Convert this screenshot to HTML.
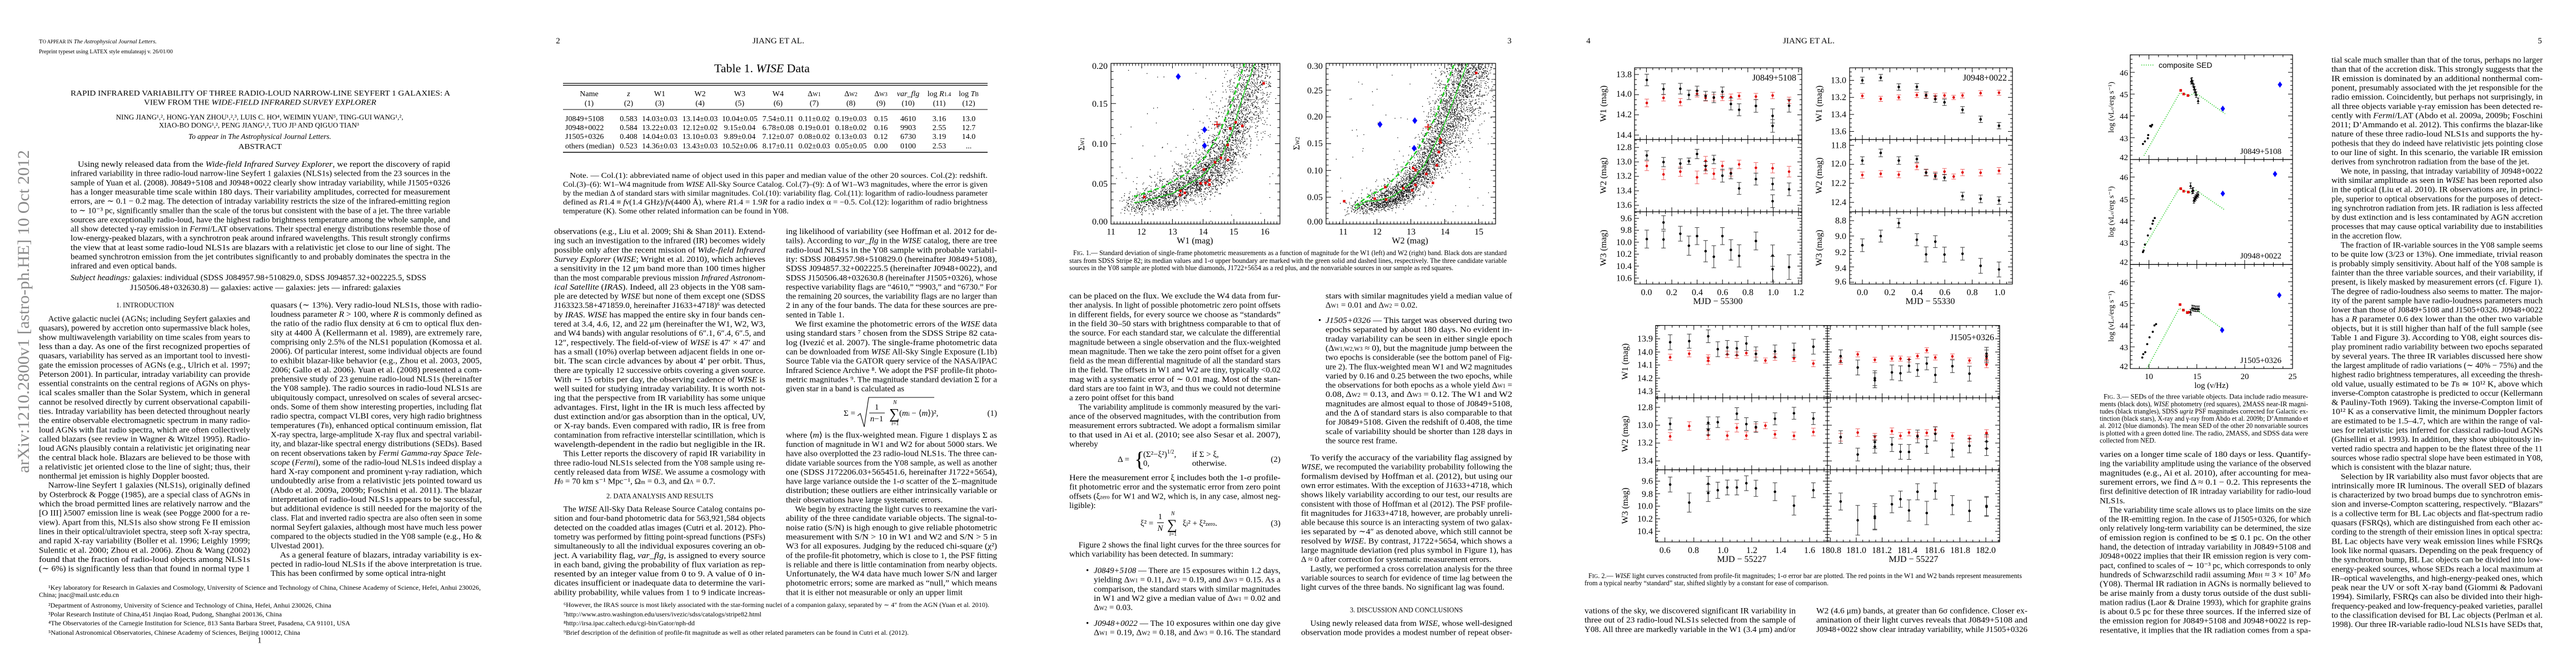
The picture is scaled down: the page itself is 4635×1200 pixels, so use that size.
<!DOCTYPE html>
<html><head><meta charset="utf-8"><title>Jiang et al. 2012</title>
<style>
html,body{margin:0;padding:0;background:#fff;}
svg{display:block;}
text{font-family:"Liberation Serif","DejaVu Serif",serif;fill:#000;}
.b{font-size:15px;}
.f{font-size:11.5px;}
.c{font-size:12.5px;}
.s{font-family:"Liberation Sans","DejaVu Sans",sans-serif;}
.i{font-style:italic;}
.u{font-size:10px;}
</style></head>
<body>
<svg id="s" xmlns="http://www.w3.org/2000/svg" width="4635" height="1200" viewBox="0 0 4635 1200">
<rect x="0" y="0" width="4635" height="1200" fill="#fff"/>

<!-- ================= PAGE 1 ================= -->
<text transform="translate(52,851) rotate(-90)" font-size="30" style="fill:#8a8a8a" textLength="581" lengthAdjust="spacingAndGlyphs">arXiv:1210.2800v1  [astro-ph.HE]  10 Oct 2012</text>
<text x="70" y="78" font-size="11" textLength="212" lengthAdjust="spacingAndGlyphs">T<tspan font-size="9">O APPEAR IN</tspan> <tspan class="i">The Astrophysical Journal Letters.</tspan></text>
<text x="70" y="96" font-size="11" textLength="241" lengthAdjust="spacingAndGlyphs">Preprint typeset using LATEX style emulateapj v. 26/01/00</text>
<text x="127" y="172" font-size="14" textLength="683" lengthAdjust="spacingAndGlyphs">RAPID INFRARED VARIABILITY OF THREE RADIO-LOUD NARROW-LINE SEYFERT 1 GALAXIES: A</text>
<text x="259" y="188.5" font-size="14" textLength="418" lengthAdjust="spacingAndGlyphs">VIEW FROM THE <tspan class="i">WIDE-FIELD INFRARED SURVEY EXPLORER</tspan></text>
<text x="208.6" y="215" font-size="12.5" textLength="517" lengthAdjust="spacingAndGlyphs">NING JIANG¹,², HONG-YAN ZHOU¹,²,³, LUIS C. HO⁴, WEIMIN YUAN⁵, TING-GUI WANG¹,²,</text>
<text x="286" y="229.5" font-size="12.5" textLength="360" lengthAdjust="spacingAndGlyphs">XIAO-BO DONG¹,², PENG JIANG¹,², TUO JI³ AND QIGUO TIAN³</text>
<text x="339" y="250" font-size="13.5" class="i" textLength="257" lengthAdjust="spacingAndGlyphs">To appear in The Astrophysical Journal Letters.</text>
<text x="429" y="268" font-size="13.5" textLength="78" lengthAdjust="spacingAndGlyphs">ABSTRACT</text>
<g class="b" transform="translate(127,300)">
<text x="13" y="0" textLength="670" lengthAdjust="spacingAndGlyphs">Using newly released data from the <tspan class="i">Wide-field Infrared Survey Explorer</tspan>, we report the discovery of rapid</text>
<text y="16.65" textLength="683" lengthAdjust="spacingAndGlyphs">infrared variability in three radio-loud narrow-line Seyfert 1 galaxies (NLS1s) selected from the 23 sources in the</text>
<text y="33.3" textLength="683" lengthAdjust="spacingAndGlyphs">sample of Yuan et al. (2008). J0849+5108 and J0948+0022 clearly show intraday variability, while J1505+0326</text>
<text y="49.95" textLength="683" lengthAdjust="spacingAndGlyphs">has a longer measurable time scale within 180 days. Their variability amplitudes, corrected for measurement</text>
<text y="66.6" textLength="683" lengthAdjust="spacingAndGlyphs">errors, are ∼ 0.1 − 0.2 mag. The detection of intraday variability restricts the size of the infrared-emitting region</text>
<text y="83.25" textLength="683" lengthAdjust="spacingAndGlyphs">to ∼ 10⁻³ pc, significantly smaller than the scale of the torus but consistent with the base of a jet. The three variable</text>
<text y="99.9" textLength="683" lengthAdjust="spacingAndGlyphs">sources are exceptionally radio-loud, have the highest radio brightness temperature among the whole sample, and</text>
<text y="116.55" textLength="683" lengthAdjust="spacingAndGlyphs">all show detected γ-ray emission in <tspan class="i">Fermi</tspan>/LAT observations. Their spectral energy distributions resemble those of</text>
<text y="133.2" textLength="683" lengthAdjust="spacingAndGlyphs">low-energy-peaked blazars, with a synchrotron peak around infrared wavelengths. This result strongly confirms</text>
<text y="149.85" textLength="683" lengthAdjust="spacingAndGlyphs">the view that at least some radio-loud NLS1s are blazars with a relativistic jet close to our line of sight. The</text>
<text y="166.5" textLength="683" lengthAdjust="spacingAndGlyphs">beamed synchrotron emission from the jet contributes significantly to and probably dominates the spectra in the</text>
<text y="183.15" textLength="191" lengthAdjust="spacingAndGlyphs">infrared and even optical bands.</text>
</g>
<text x="127" y="504" class="b" textLength="640" lengthAdjust="spacingAndGlyphs"><tspan class="i">Subject headings:</tspan> galaxies: individual (SDSS J084957.98+510829.0, SDSS J094857.32+002225.5, SDSS</text>
<text x="234" y="522" class="b" textLength="487" lengthAdjust="spacingAndGlyphs">J150506.48+032630.8) — galaxies: active — galaxies: jets — infrared: galaxies</text>
<text x="209" y="553" font-size="12.5" textLength="104" lengthAdjust="spacingAndGlyphs">1. INTRODUCTION</text>
<g class="b" transform="translate(70,578)">
<text x="16.6" y="0" textLength="363.4" lengthAdjust="spacingAndGlyphs">Active galactic nuclei (AGNs; including Seyfert galaxies and</text>
<text y="16.65" textLength="380" lengthAdjust="spacingAndGlyphs">quasars), powered by accretion onto supermassive black holes,</text>
<text y="33.3" textLength="380" lengthAdjust="spacingAndGlyphs">show multiwavelength variability on time scales from years to</text>
<text y="49.95" textLength="380" lengthAdjust="spacingAndGlyphs">less than a day. As one of the first recognized properties of</text>
<text y="66.6" textLength="380" lengthAdjust="spacingAndGlyphs">quasars, variability has served as an important tool to investi-</text>
<text y="83.25" textLength="380" lengthAdjust="spacingAndGlyphs">gate the emission processes of AGNs (e.g., Ulrich et al. 1997;</text>
<text y="99.9" textLength="380" lengthAdjust="spacingAndGlyphs">Peterson 2001). In particular, intraday variability can provide</text>
<text y="116.55" textLength="380" lengthAdjust="spacingAndGlyphs">essential constraints on the central regions of AGNs on phys-</text>
<text y="133.2" textLength="380" lengthAdjust="spacingAndGlyphs">ical scales smaller than the Solar System, which in general</text>
<text y="149.85" textLength="380" lengthAdjust="spacingAndGlyphs">cannot be resolved directly by current observational capabili-</text>
<text y="166.5" textLength="380" lengthAdjust="spacingAndGlyphs">ties. Intraday variability has been detected throughout nearly</text>
<text y="183.15" textLength="380" lengthAdjust="spacingAndGlyphs">the entire observable electromagnetic spectrum in many radio-</text>
<text y="199.8" textLength="380" lengthAdjust="spacingAndGlyphs">loud AGNs with flat radio spectra, which are often collectively</text>
<text y="216.45" textLength="380" lengthAdjust="spacingAndGlyphs">called blazars (see review in Wagner &amp; Witzel 1995). Radio-</text>
<text y="233.1" textLength="380" lengthAdjust="spacingAndGlyphs">loud AGNs plausibly contain a relativistic jet originating near</text>
<text y="249.75" textLength="380" lengthAdjust="spacingAndGlyphs">the central black hole. Blazars are believed to be those with</text>
<text y="266.4" textLength="380" lengthAdjust="spacingAndGlyphs">a relativistic jet oriented close to the line of sight; thus, their</text>
<text y="283.05">nonthermal jet emission is highly Doppler boosted.</text>
<text x="16.6" y="299.7" textLength="363.4" lengthAdjust="spacingAndGlyphs">Narrow-line Seyfert 1 galaxies (NLS1s), originally defined</text>
<text y="316.35" textLength="380" lengthAdjust="spacingAndGlyphs">by Osterbrock &amp; Pogge (1985), are a special class of AGNs in</text>
<text y="333" textLength="380" lengthAdjust="spacingAndGlyphs">which the broad permitted lines are relatively narrow and the</text>
<text y="349.65" textLength="380" lengthAdjust="spacingAndGlyphs">[O III] λ5007 emission line is weak (see Pogge 2000 for a re-</text>
<text y="366.3" textLength="380" lengthAdjust="spacingAndGlyphs">view). Apart from this, NLS1s also show strong Fe II emission</text>
<text y="382.95" textLength="380" lengthAdjust="spacingAndGlyphs">lines in their optical/ultraviolet spectra, steep soft X-ray spectra,</text>
<text y="399.6" textLength="380" lengthAdjust="spacingAndGlyphs">and rapid X-ray variability (Boller et al. 1996; Leighly 1999;</text>
<text y="416.25" textLength="380" lengthAdjust="spacingAndGlyphs">Sulentic et al. 2000; Zhou et al. 2006). Zhou &amp; Wang (2002)</text>
<text y="432.9" textLength="380" lengthAdjust="spacingAndGlyphs">found that the fraction of radio-loud objects among NLS1s</text>
<text y="449.55" textLength="380" lengthAdjust="spacingAndGlyphs">(∼ 6%) is significantly less than that found in normal type 1</text>
</g>
<g class="b" transform="translate(487,553.4)">
<text y="0" textLength="380" lengthAdjust="spacingAndGlyphs">quasars (∼ 13%). Very radio-loud NLS1s, those with radio-</text>
<text y="16.65" textLength="380" lengthAdjust="spacingAndGlyphs">loudness parameter <tspan class="i">R</tspan> &gt; 100, where <tspan class="i">R</tspan> is commonly defined as</text>
<text y="33.3" textLength="380" lengthAdjust="spacingAndGlyphs">the ratio of the radio flux density at 6 cm to optical flux den-</text>
<text y="49.95" textLength="380" lengthAdjust="spacingAndGlyphs">sity at 4400 Å (Kellermann et al. 1989), are extremely rare,</text>
<text y="66.6" textLength="380" lengthAdjust="spacingAndGlyphs">comprising only 2.5% of the NLS1 population (Komossa et al.</text>
<text y="83.25" textLength="380" lengthAdjust="spacingAndGlyphs">2006). Of particular interest, some individual objects are found</text>
<text y="99.9" textLength="380" lengthAdjust="spacingAndGlyphs">to exhibit blazar-like behavior (e.g., Zhou et al. 2003, 2005,</text>
<text y="116.55" textLength="380" lengthAdjust="spacingAndGlyphs">2006; Gallo et al. 2006). Yuan et al. (2008) presented a com-</text>
<text y="133.2" textLength="380" lengthAdjust="spacingAndGlyphs">prehensive study of 23 genuine radio-loud NLS1s (hereinafter</text>
<text y="149.85" textLength="380" lengthAdjust="spacingAndGlyphs">the Y08 sample). The radio sources in radio-loud NLS1s are</text>
<text y="166.5" textLength="380" lengthAdjust="spacingAndGlyphs">ubiquitously compact, unresolved on scales of several arcsec-</text>
<text y="183.15" textLength="380" lengthAdjust="spacingAndGlyphs">onds. Some of them show interesting properties, including flat</text>
<text y="199.8" textLength="380" lengthAdjust="spacingAndGlyphs">radio spectra, compact VLBI cores, very high radio brightness</text>
<text y="216.45" textLength="380" lengthAdjust="spacingAndGlyphs">temperatures (<tspan class="i">T</tspan><tspan class="u">B</tspan>), enhanced optical continuum emission, flat</text>
<text y="233.1" textLength="380" lengthAdjust="spacingAndGlyphs">X-ray spectra, large-amplitude X-ray flux and spectral variabil-</text>
<text y="249.75" textLength="380" lengthAdjust="spacingAndGlyphs">ity, and blazar-like spectral energy distributions (SEDs). Based</text>
<text y="266.4" textLength="380" lengthAdjust="spacingAndGlyphs">on recent observations taken by <tspan class="i">Fermi Gamma-ray Space Tele-</tspan></text>
<text y="283.05" textLength="380" lengthAdjust="spacingAndGlyphs"><tspan class="i">scope</tspan> (<tspan class="i">Fermi</tspan>), some of the radio-loud NLS1s indeed display a</text>
<text y="299.7" textLength="380" lengthAdjust="spacingAndGlyphs">hard X-ray component and prominent γ-ray radiation, which</text>
<text y="316.35" textLength="380" lengthAdjust="spacingAndGlyphs">undoubtedly arise from a relativistic jets pointed toward us</text>
<text y="333" textLength="380" lengthAdjust="spacingAndGlyphs">(Abdo et al. 2009a, 2009b; Foschini et al. 2011). The blazar</text>
<text y="349.65" textLength="380" lengthAdjust="spacingAndGlyphs">interpretation of radio-loud NLS1s appears to be successful,</text>
<text y="366.3" textLength="380" lengthAdjust="spacingAndGlyphs">but additional evidence is still needed for the majority of the</text>
<text y="382.95" textLength="380" lengthAdjust="spacingAndGlyphs">class. Flat and inverted radio spectra are also often seen in some</text>
<text y="399.6" textLength="380" lengthAdjust="spacingAndGlyphs">normal Seyfert galaxies, although most have much less power</text>
<text y="416.25" textLength="380" lengthAdjust="spacingAndGlyphs">compared to the objects studied in the Y08 sample (e.g., Ho &amp;</text>
<text y="432.9">Ulvestad 2001).</text>
<text x="16.6" y="449.55" textLength="363.4" lengthAdjust="spacingAndGlyphs">As a general feature of blazars, intraday variability is ex-</text>
<text y="466.2" textLength="380" lengthAdjust="spacingAndGlyphs">pected in radio-loud NLS1s if the above interpretation is true.</text>
<text y="482.85" textLength="315" lengthAdjust="spacingAndGlyphs">This has been confirmed by some optical intra-night</text>
</g>
<g class="f">
<text x="87" y="1061" textLength="778" lengthAdjust="spacingAndGlyphs">¹Key laboratory for Research in Galaxies and Cosmology, University of Science and Technology of China, Chinese Academy of Science, Hefei, Anhui 230026,</text>
<text x="70" y="1074" textLength="144" lengthAdjust="spacingAndGlyphs">China; jnac@mail.ustc.edu.cn</text>
<text x="87" y="1093" textLength="509" lengthAdjust="spacingAndGlyphs">²Department of Astronomy, University of Science and Technology of China, Hefei, Anhui 230026, China</text>
<text x="87" y="1109" textLength="420" lengthAdjust="spacingAndGlyphs">³Polar Research Institute of China,451 Jinqiao Road, Pudong, Shanghai 200136, China</text>
<text x="87" y="1125" textLength="543" lengthAdjust="spacingAndGlyphs">⁴The Observatories of the Carnegie Institution for Science, 813 Santa Barbara Street, Pasadena, CA 91101, USA</text>
<text x="87" y="1142" textLength="453" lengthAdjust="spacingAndGlyphs">⁵National Astronomical Observatories, Chinese Academy of Sciences, Beijing 100012, China</text>
</g>
<text x="467" y="1156.5" class="b" text-anchor="middle">1</text>

<!-- ================= PAGE 2 ================= -->
<text x="1004" y="78" class="b" text-anchor="middle">2</text>
<text x="1354" y="78" class="b" textLength="93" lengthAdjust="spacingAndGlyphs">JIANG ET AL.</text>
<text x="1285" y="130" font-size="21" textLength="172" lengthAdjust="spacingAndGlyphs">Table 1.   <tspan class="i">WISE</tspan> Data</text>
<g stroke="#000" fill="none">
<line x1="1013" y1="150" x2="1777" y2="150" stroke-width="1.2"/>
<line x1="1013" y1="153.5" x2="1777" y2="153.5" stroke-width="1.2"/>
<line x1="1013" y1="197" x2="1777" y2="197" stroke-width="1"/>
<line x1="1013" y1="274" x2="1777" y2="274" stroke-width="1.6"/>
</g>
<g font-size="14" text-anchor="middle">
<text x="1060" y="173">Name</text><text x="1131" y="173" class="i">z</text><text x="1187" y="173">W1</text><text x="1259.6" y="173">W2</text><text x="1331" y="173">W3</text><text x="1400" y="173">W4</text><text x="1465" y="173">Δ<tspan class="u">W1</tspan></text><text x="1531" y="173">Δ<tspan class="u">W2</tspan></text><text x="1585" y="173">Δ<tspan class="u">W3</tspan></text><text x="1634" y="173" class="i">var_flg</text><text x="1690" y="173">log <tspan class="i">R</tspan><tspan class="u">1.4</tspan></text><text x="1743" y="173">log <tspan class="i">T</tspan><tspan class="u">B</tspan></text>
<text x="1060" y="190">(1)</text><text x="1131" y="190">(2)</text><text x="1187" y="190">(3)</text><text x="1259.6" y="190">(4)</text><text x="1331" y="190">(5)</text><text x="1400" y="190">(6)</text><text x="1465" y="190">(7)</text><text x="1531" y="190">(8)</text><text x="1585" y="190">(9)</text><text x="1634" y="190">(10)</text><text x="1690" y="190">(11)</text><text x="1743" y="190">(12)</text>
<text x="1131" y="218">0.583</text><text x="1187" y="218">14.03±0.03</text><text x="1259.6" y="218">13.14±0.03</text><text x="1331" y="218">10.04±0.05</text><text x="1400" y="218">7.54±0.11</text><text x="1465" y="218">0.11±0.02</text><text x="1531" y="218">0.19±0.03</text><text x="1585" y="218">0.15</text><text x="1634" y="218">4610</text><text x="1690" y="218">3.16</text><text x="1743" y="218">13.0</text>
<text x="1131" y="234">0.584</text><text x="1187" y="234">13.22±0.03</text><text x="1259.6" y="234">12.12±0.02</text><text x="1331" y="234">9.15±0.04</text><text x="1400" y="234">6.78±0.08</text><text x="1465" y="234">0.19±0.01</text><text x="1531" y="234">0.18±0.02</text><text x="1585" y="234">0.16</text><text x="1634" y="234">9903</text><text x="1690" y="234">2.55</text><text x="1743" y="234">12.7</text>
<text x="1131" y="250">0.408</text><text x="1187" y="250">14.04±0.03</text><text x="1259.6" y="250">13.10±0.03</text><text x="1331" y="250">9.89±0.04</text><text x="1400" y="250">7.12±0.07</text><text x="1465" y="250">0.08±0.02</text><text x="1531" y="250">0.13±0.03</text><text x="1585" y="250">0.12</text><text x="1634" y="250">6730</text><text x="1690" y="250">3.19</text><text x="1743" y="250">14.0</text>
<text x="1131" y="267">0.523</text><text x="1187" y="267">14.36±0.03</text><text x="1259.6" y="267">13.43±0.03</text><text x="1331" y="267">10.52±0.06</text><text x="1400" y="267">8.17±0.11</text><text x="1465" y="267">0.02±0.03</text><text x="1531" y="267">0.05±0.05</text><text x="1585" y="267">0.00</text><text x="1634" y="267">0100</text><text x="1690" y="267">2.53</text><text x="1743" y="267">...</text>
</g>
<g font-size="14">
<text x="1017" y="218">J0849+5108</text><text x="1017" y="234">J0948+0022</text><text x="1017" y="250">J1505+0326</text><text x="1017" y="267">others (median)</text>
</g>
<g font-size="13.5">
<text x="1025" y="320" textLength="752" lengthAdjust="spacingAndGlyphs">Note. — Col.(1): abbreviated name of object used in this paper and median value of the other 20 sources. Col.(2): redshift.</text>
<text x="1013" y="336" textLength="764" lengthAdjust="spacingAndGlyphs">Col.(3)–(6): W1–W4 magnitude from <tspan class="i">WISE</tspan> All-Sky Source Catalog. Col.(7)–(9): Δ of W1–W3 magnitudes, where the error is given</text>
<text x="1013" y="352" textLength="764" lengthAdjust="spacingAndGlyphs">by the median Δ of standard stars with similar magnitudes. Col.(10): variability flag. Col.(11): logarithm of radio-loudness parameter</text>
<text x="1013" y="368" textLength="764" lengthAdjust="spacingAndGlyphs">defined as <tspan class="i">R</tspan>1.4 ≡ <tspan class="i">f</tspan>ν(1.4 GHz)/<tspan class="i">f</tspan>ν(4400 Å), where <tspan class="i">R</tspan>1.4 = 1.9<tspan class="i">R</tspan> for a radio index α = −0.5. Col.(12): logarithm of radio brightness</text>
<text x="1013" y="384" textLength="406" lengthAdjust="spacingAndGlyphs">temperature (K). Some other related information can be found in Y08.</text>
</g>
<g class="b" transform="translate(997,421)">
<text y="0" textLength="380" lengthAdjust="spacingAndGlyphs">observations (e.g., Liu et al. 2009; Shi &amp; Shan 2011). Extend-</text>
<text y="16.65" textLength="380" lengthAdjust="spacingAndGlyphs">ing such an investigation to the infrared (IR) becomes widely</text>
<text y="33.3" textLength="380" lengthAdjust="spacingAndGlyphs">possible only after the recent mission of <tspan class="i">Wide-field Infrared</tspan></text>
<text y="49.95" textLength="380" lengthAdjust="spacingAndGlyphs"><tspan class="i">Survey Explorer</tspan> (<tspan class="i">WISE</tspan>; Wright et al. 2010), which achieves</text>
<text y="66.6" textLength="380" lengthAdjust="spacingAndGlyphs">a sensitivity in the 12 μm band more than 100 times higher</text>
<text y="83.25" textLength="380" lengthAdjust="spacingAndGlyphs">than the most comparable previous mission <tspan class="i">Infrared Astronom-</tspan></text>
<text y="99.9" textLength="380" lengthAdjust="spacingAndGlyphs"><tspan class="i">ical Satellite</tspan> (<tspan class="i">IRAS</tspan>). Indeed, all 23 objects in the Y08 sam-</text>
<text y="116.55" textLength="380" lengthAdjust="spacingAndGlyphs">ple are detected by <tspan class="i">WISE</tspan> but none of them except one (SDSS</text>
<text y="133.2" textLength="380" lengthAdjust="spacingAndGlyphs">J163323.58+471859.0, hereinafter J1633+4718)⁶ was detected</text>
<text y="149.85" textLength="380" lengthAdjust="spacingAndGlyphs">by <tspan class="i">IRAS</tspan>. <tspan class="i">WISE</tspan> has mapped the entire sky in four bands cen-</text>
<text y="166.5" textLength="380" lengthAdjust="spacingAndGlyphs">tered at 3.4, 4.6, 12, and 22 μm (hereinafter the W1, W2, W3,</text>
<text y="183.15" textLength="380" lengthAdjust="spacingAndGlyphs">and W4 bands) with angular resolutions of 6″.1, 6″.4, 6″.5, and</text>
<text y="199.8" textLength="380" lengthAdjust="spacingAndGlyphs">12″, respectively. The field-of-view of <tspan class="i">WISE</tspan> is 47′ × 47′ and</text>
<text y="216.45" textLength="380" lengthAdjust="spacingAndGlyphs">has a small (10%) overlap between adjacent fields in one or-</text>
<text y="233.1" textLength="380" lengthAdjust="spacingAndGlyphs">bit. The scan circle advances by about 4′ per orbit. Thus,</text>
<text y="249.75" textLength="380" lengthAdjust="spacingAndGlyphs">there are typically 12 successive orbits covering a given source.</text>
<text y="266.4" textLength="380" lengthAdjust="spacingAndGlyphs">With ∼ 15 orbits per day, the observing cadence of <tspan class="i">WISE</tspan> is</text>
<text y="283.05" textLength="380" lengthAdjust="spacingAndGlyphs">well suited for studying intraday variability. It is worth not-</text>
<text y="299.7" textLength="380" lengthAdjust="spacingAndGlyphs">ing that the perspective from IR variability has some unique</text>
<text y="316.35" textLength="380" lengthAdjust="spacingAndGlyphs">advantages. First, light in the IR is much less affected by</text>
<text y="333" textLength="380" lengthAdjust="spacingAndGlyphs">dust extinction and/or gas absorption than in the optical, UV,</text>
<text y="349.65" textLength="380" lengthAdjust="spacingAndGlyphs">or X-ray bands. Even compared with radio, IR is free from</text>
<text y="366.3" textLength="380" lengthAdjust="spacingAndGlyphs">contamination from refractive interstellar scintillation, which is</text>
<text y="382.95" textLength="380" lengthAdjust="spacingAndGlyphs">wavelength-dependent in the radio but negligible in the IR.</text>
<text x="16.6" y="399.6" textLength="363.4" lengthAdjust="spacingAndGlyphs">This Letter reports the discovery of rapid IR variability in</text>
<text y="416.25" textLength="380" lengthAdjust="spacingAndGlyphs">three radio-loud NLS1s selected from the Y08 sample using re-</text>
<text y="432.9" textLength="380" lengthAdjust="spacingAndGlyphs">cently released data from <tspan class="i">WISE</tspan>. We assume a cosmology with</text>
<text y="449.55" textLength="290" lengthAdjust="spacingAndGlyphs"><tspan class="i">H</tspan><tspan class="u">0</tspan> = 70 km s⁻¹ Mpc⁻¹, Ω<tspan class="u">m</tspan> = 0.3, and Ω<tspan class="u">Λ</tspan> = 0.7.</text>
<text x="94" y="475.5" font-size="13" textLength="192.6" lengthAdjust="spacingAndGlyphs">2. DATA ANALYSIS AND RESULTS</text>
<text x="16.6" y="499.5" textLength="363.4" lengthAdjust="spacingAndGlyphs">The <tspan class="i">WISE</tspan> All-Sky Data Release Source Catalog contains po-</text>
<text y="516.15" textLength="380" lengthAdjust="spacingAndGlyphs">sition and four-band photometric data for 563,921,584 objects</text>
<text y="532.8" textLength="380" lengthAdjust="spacingAndGlyphs">detected on the coadded atlas images (Cutri et al. 2012). Pho-</text>
<text y="549.45" textLength="380" lengthAdjust="spacingAndGlyphs">tometry was performed by fitting point-spread functions (PSFs)</text>
<text y="566.1" textLength="380" lengthAdjust="spacingAndGlyphs">simultaneously to all the individual exposures covering an ob-</text>
<text y="582.75" textLength="380" lengthAdjust="spacingAndGlyphs">ject. A variability flag, <tspan class="i">var_flg</tspan>, is assigned to every source</text>
<text y="599.4" textLength="380" lengthAdjust="spacingAndGlyphs">in each band, giving the probability of flux variation as rep-</text>
<text y="616.05" textLength="380" lengthAdjust="spacingAndGlyphs">resented by an integer value from 0 to 9. A value of 0 in-</text>
<text y="632.7" textLength="380" lengthAdjust="spacingAndGlyphs">dicates insufficient or inadequate data to determine the vari-</text>
<text y="649.35" textLength="380" lengthAdjust="spacingAndGlyphs">ability probability, while values from 1 to 9 indicate increas-</text>
</g>
<g class="b" transform="translate(1414,421)">
<text y="0" textLength="380" lengthAdjust="spacingAndGlyphs">ing likelihood of variability (see Hoffman et al. 2012 for de-</text>
<text y="16.65" textLength="380" lengthAdjust="spacingAndGlyphs">tails). According to <tspan class="i">var_flg</tspan> in the <tspan class="i">WISE</tspan> catalog, there are tree</text>
<text y="33.3" textLength="380" lengthAdjust="spacingAndGlyphs">radio-loud NLS1s in the Y08 sample with probable variabil-</text>
<text y="49.95" textLength="380" lengthAdjust="spacingAndGlyphs">ity: SDSS J084957.98+510829.0 (hereinafter J0849+5108),</text>
<text y="66.6" textLength="380" lengthAdjust="spacingAndGlyphs">SDSS J094857.32+002225.5 (hereinafter J0948+0022), and</text>
<text y="83.25" textLength="380" lengthAdjust="spacingAndGlyphs">SDSS J150506.48+032630.8 (hereinafter J1505+0326), whose</text>
<text y="99.9" textLength="380" lengthAdjust="spacingAndGlyphs">respective variability flags are “4610,” “9903,” and “6730.” For</text>
<text y="116.55" textLength="380" lengthAdjust="spacingAndGlyphs">the remaining 20 sources, the variability flags are no larger than</text>
<text y="133.2" textLength="380" lengthAdjust="spacingAndGlyphs">2 in any of the four bands. The data for these sources are pre-</text>
<text y="149.85">sented in Table 1.</text>
<text x="16.6" y="166.5" textLength="363.4" lengthAdjust="spacingAndGlyphs">We first examine the photometric errors of the <tspan class="i">WISE</tspan> data</text>
<text y="183.15" textLength="380" lengthAdjust="spacingAndGlyphs">using standard stars ⁷ chosen from the SDSS Stripe 82 cata-</text>
<text y="199.8" textLength="380" lengthAdjust="spacingAndGlyphs">log (Ivezić et al. 2007). The single-frame photometric data</text>
<text y="216.45" textLength="380" lengthAdjust="spacingAndGlyphs">can be downloaded from <tspan class="i">WISE</tspan> All-Sky Single Exposure (L1b)</text>
<text y="233.1" textLength="380" lengthAdjust="spacingAndGlyphs">Source Table via the GATOR query service of the NASA/IPAC</text>
<text y="249.75" textLength="380" lengthAdjust="spacingAndGlyphs">Infrared Science Archive ⁸. We adopt the PSF profile-fit photo-</text>
<text y="266.4" textLength="380" lengthAdjust="spacingAndGlyphs">metric magnitudes ⁹. The magnitude standard deviation Σ for a</text>
<text y="283.05" textLength="213" lengthAdjust="spacingAndGlyphs">given star in a band is calculated as</text>
<text y="366.3" textLength="380" lengthAdjust="spacingAndGlyphs">where ⟨<tspan class="i">m</tspan>⟩ is the flux-weighted mean. Figure 1 displays Σ as</text>
<text y="382.95" textLength="380" lengthAdjust="spacingAndGlyphs">function of magnitude in W1 and W2 for about 5000 stars. We</text>
<text y="399.6" textLength="380" lengthAdjust="spacingAndGlyphs">have also overplotted the 23 radio-loud NLS1s. The three can-</text>
<text y="416.25" textLength="380" lengthAdjust="spacingAndGlyphs">didate variable sources from the Y08 sample, as well as another</text>
<text y="432.9" textLength="380" lengthAdjust="spacingAndGlyphs">one (SDSS J172206.03+565451.6, hereinafter J1722+5654),</text>
<text y="449.55" textLength="380" lengthAdjust="spacingAndGlyphs">have large variance outside the 1-σ scatter of the Σ–magnitude</text>
<text y="466.2" textLength="380" lengthAdjust="spacingAndGlyphs">distribution; these outliers are either intrinsically variable or</text>
<text y="482.85">their observations have large systematic errors.</text>
<text x="16.6" y="499.5" textLength="363.4" lengthAdjust="spacingAndGlyphs">We begin by extracting the light curves to reexamine the vari-</text>
<text y="516.15" textLength="380" lengthAdjust="spacingAndGlyphs">ability of the three candidate variable objects. The signal-to-</text>
<text y="532.8" textLength="380" lengthAdjust="spacingAndGlyphs">noise ratio (S/N) is high enough to give reliable photometric</text>
<text y="549.45" textLength="380" lengthAdjust="spacingAndGlyphs">measurement with S/N &gt; 10 in W1 and W2 and S/N &gt; 5 in</text>
<text y="566.1" textLength="380" lengthAdjust="spacingAndGlyphs">W3 for all exposures. Judging by the reduced chi-square (χ²)</text>
<text y="582.75" textLength="380" lengthAdjust="spacingAndGlyphs">of the profile-fit photometry, which is close to 1, the PSF fitting</text>
<text y="599.4" textLength="380" lengthAdjust="spacingAndGlyphs">is reliable and there is little contamination from nearby objects.</text>
<text y="616.05" textLength="380" lengthAdjust="spacingAndGlyphs">Unfortunately, the W4 data have much lower S/N and larger</text>
<text y="632.7" textLength="380" lengthAdjust="spacingAndGlyphs">photometric errors; some are marked as “null,” which means</text>
<text y="649.35" textLength="318" lengthAdjust="spacingAndGlyphs">that it is either not measurable or only an upper limit</text>
</g>
<!-- equation 1 -->
<text x="1518" y="748" class="b">Σ =</text>
<path d="M1543 748 L1548 744 L1555 768 L1563 715 L1681 715" stroke="#000" stroke-width="1.1" fill="none"/>
<text x="1577.5" y="737" class="b" text-anchor="middle">1</text>
<line x1="1564" y1="743" x2="1592" y2="743" stroke="#000" stroke-width="1"/>
<text x="1577.5" y="758" class="b" text-anchor="middle"><tspan class="i">n</tspan>−1</text>
<text x="1600" y="753" font-size="26">∑</text>
<text x="1607" y="727" font-size="10" class="i">N</text>
<text x="1604" y="765" font-size="10"><tspan class="i">i</tspan>=1</text>
<text x="1618" y="748" class="b">(<tspan class="i">m</tspan><tspan class="u">i</tspan> − ⟨<tspan class="i">m</tspan>⟩)²,</text>
<text x="1794" y="748" class="b" text-anchor="end">(1)</text>
<g class="f">
<text x="1014" y="1092" textLength="766" lengthAdjust="spacingAndGlyphs">⁶However, the IRAS source is most likely associated with the star-forming nuclei of a companion galaxy, separated by ∼ 4″ from the AGN (Yuan et al. 2010).</text>
<text x="1014" y="1109" textLength="356" lengthAdjust="spacingAndGlyphs">⁷http://www.astro.washington.edu/users/ivezic/sdss/catalogs/stripe82.html</text>
<text x="1014" y="1125" textLength="236" lengthAdjust="spacingAndGlyphs">⁸http://irsa.ipac.caltech.edu/cgi-bin/Gator/nph-dd</text>
<text x="1014" y="1142" textLength="621" lengthAdjust="spacingAndGlyphs">⁹Brief description of the definition of profile-fit magnitude as well as other related parameters can be found in Cutri et al. (2012).</text>
</g>

<!-- ================= PAGE 3 ================= -->
<text x="2716" y="78" class="b" text-anchor="middle">3</text>
<g fill="none" stroke="#000" stroke-width="1.2">
<rect x="1999" y="114" width="304" height="289"/>
<rect x="2386" y="114" width="305" height="289"/>
</g>
<g class="s" font-size="16" text-anchor="end">
<text x="1993" y="124">0.20</text><text x="1993" y="192">0.15</text><text x="1993" y="264">0.10</text><text x="1993" y="336">0.05</text><text x="1993" y="404">0.00</text>
<text x="2380" y="124">0.30</text><text x="2380" y="168">0.25</text><text x="2380" y="215">0.20</text><text x="2380" y="263">0.15</text><text x="2380" y="312">0.10</text><text x="2380" y="360">0.05</text><text x="2380" y="404">0.00</text>
</g>
<g class="s" font-size="16" text-anchor="middle">
<text x="1999" y="422">11</text><text x="2054" y="422">12</text><text x="2110" y="422">13</text><text x="2165" y="422">14</text><text x="2220" y="422">15</text><text x="2276" y="422">16</text>
<text x="2417" y="422">11</text><text x="2478" y="422">12</text><text x="2539" y="422">13</text><text x="2600" y="422">14</text><text x="2661" y="422">15</text>
<text x="2150" y="438">W1 (mag)</text>
<text x="2537" y="438">W2 (mag)</text>
<text transform="translate(1951,259) rotate(-90)">Σ<tspan font-size="10">W1</tspan></text>
<text transform="translate(2338,258) rotate(-90)">Σ<tspan font-size="10">W2</tspan></text>
</g>
<g class="c">
<text x="1931" y="459" textLength="780" lengthAdjust="spacingAndGlyphs">F<tspan font-size="10">IG</tspan>. 1.— Standard deviation of single-frame photometric measurements as a function of magnitude for the W1 (left) and W2 (right) band. Black dots are standard</text>
<text x="1924" y="473" textLength="787" lengthAdjust="spacingAndGlyphs">stars from SDSS Stripe 82; its median values and 1-σ upper boundary are marked with the green solid and dashed lines, respectively. The three candidate variable</text>
<text x="1924" y="486" textLength="691" lengthAdjust="spacingAndGlyphs">sources in the Y08 sample are plotted with blue diamonds, J1722+5654 as a red plus, and the nonvariable sources in our sample as red squares.</text>
</g>
<g class="b" transform="translate(1924,537)">
<text y="0" textLength="380" lengthAdjust="spacingAndGlyphs">can be placed on the flux. We exclude the W4 data from fur-</text>
<text y="16.65" textLength="380" lengthAdjust="spacingAndGlyphs">ther analysis. In light of possible photometric zero point offsets</text>
<text y="33.3" textLength="380" lengthAdjust="spacingAndGlyphs">in different fields, for every source we choose as “standards”</text>
<text y="49.95" textLength="380" lengthAdjust="spacingAndGlyphs">in the field 30–50 stars with brightness comparable to that of</text>
<text y="66.6" textLength="380" lengthAdjust="spacingAndGlyphs">the source. For each standard star, we calculate the differential</text>
<text y="83.25" textLength="380" lengthAdjust="spacingAndGlyphs">magnitude between a single observation and the flux-weighted</text>
<text y="99.9" textLength="380" lengthAdjust="spacingAndGlyphs">mean magnitude. Then we take the zero point offset for a given</text>
<text y="116.55" textLength="380" lengthAdjust="spacingAndGlyphs">field as the mean differential magnitude of all the standard stars</text>
<text y="133.2" textLength="380" lengthAdjust="spacingAndGlyphs">in the field. The offsets in W1 and W2 are tiny, typically &lt;0.02</text>
<text y="149.85" textLength="380" lengthAdjust="spacingAndGlyphs">mag with a systematic error of ∼ 0.01 mag. Most of the stan-</text>
<text y="166.5" textLength="380" lengthAdjust="spacingAndGlyphs">dard stars are too faint in W3, and thus we could not determine</text>
<text y="183.15">a zero point offset for this band</text>
<text x="16.6" y="199.8" textLength="363.4" lengthAdjust="spacingAndGlyphs">The variability amplitude is commonly measured by the vari-</text>
<text y="216.45" textLength="380" lengthAdjust="spacingAndGlyphs">ance of the observed magnitudes, with the contribution from</text>
<text y="233.1" textLength="380" lengthAdjust="spacingAndGlyphs">measurement errors subtracted. We adopt a formalism similar</text>
<text y="249.75" textLength="380" lengthAdjust="spacingAndGlyphs">to that used in Ai et al. (2010; see also Sesar et al. 2007),</text>
<text y="266.4">whereby</text>
</g>
<!-- eq 2 -->
<g class="b">
<text x="2011" y="831">Δ =</text>
<text x="2041" y="839" font-size="38" style="font-weight:normal">{</text>
<text x="2057" y="822">(Σ²−ξ²)<tspan font-size="10" dy="-6">1/2</tspan><tspan dy="6">,</tspan></text>
<text x="2145" y="822">if Σ &gt; ξ,</text>
<text x="2057" y="838">0,</text>
<text x="2145" y="838">otherwise.</text>
<text x="2304" y="831" text-anchor="end">(2)</text>
</g>
<g class="b" transform="translate(1924,0)">
<text y="864" textLength="380" lengthAdjust="spacingAndGlyphs">Here the measurement error ξ includes both the 1-σ profile-</text>
<text y="880.65" textLength="380" lengthAdjust="spacingAndGlyphs">fit photometric error and the systematic error from zero point</text>
<text y="897.3" textLength="380" lengthAdjust="spacingAndGlyphs">offsets (ξ<tspan class="u">zero</tspan> for W1 and W2, which is, in any case, almost neg-</text>
<text y="913.95">ligible):</text>
<text x="16.6" y="985" textLength="363.4" lengthAdjust="spacingAndGlyphs">Figure 2 shows the final light curves for the three sources for</text>
<text y="1001.65">which variability has been detected. In summary:</text>
<text x="30" y="1031">•</text>
<text x="44" y="1031" textLength="336" lengthAdjust="spacingAndGlyphs"><tspan class="i">J0849+5108</tspan> — There are 15 exposures within 1.2 days,</text>
<text x="44" y="1047.65" textLength="336" lengthAdjust="spacingAndGlyphs">yielding Δ<tspan class="u">W1</tspan> = 0.11, Δ<tspan class="u">W2</tspan> = 0.19, and Δ<tspan class="u">W3</tspan> = 0.15. As a</text>
<text x="44" y="1064.3" textLength="336" lengthAdjust="spacingAndGlyphs">comparison, the standard stars with similar magnitudes</text>
<text x="44" y="1080.95" textLength="336" lengthAdjust="spacingAndGlyphs">in W1 and W2 give a median value of Δ<tspan class="u">W1</tspan> = 0.02 and</text>
<text x="44" y="1097.6">Δ<tspan class="u">W2</tspan> = 0.03.</text>
<text x="30" y="1126">•</text>
<text x="44" y="1126" textLength="336" lengthAdjust="spacingAndGlyphs"><tspan class="i">J0948+0022</tspan> — The 10 exposures within one day give</text>
<text x="44" y="1142.65" textLength="336" lengthAdjust="spacingAndGlyphs">Δ<tspan class="u">W1</tspan> = 0.19, Δ<tspan class="u">W2</tspan> = 0.18, and Δ<tspan class="u">W3</tspan> = 0.16. The standard</text>
</g>
<!-- eq 3 -->
<g class="b">
<text x="2052" y="946">ξ² =</text>
<text x="2087.5" y="934" text-anchor="middle">1</text>
<line x1="2082" y1="940.5" x2="2094" y2="940.5" stroke="#000" stroke-width="1"/>
<text x="2087.5" y="955" text-anchor="middle" class="i">N</text>
<text x="2100" y="952" font-size="25">∑</text>
<text x="2107" y="927" font-size="10" class="i">N</text>
<text x="2104" y="964" font-size="10"><tspan class="i">i</tspan>=1</text>
<text x="2128" y="946">ξ<tspan class="u">i</tspan>² + ξ²<tspan class="u">zero</tspan>.</text>
<text x="2304" y="946" text-anchor="end">(3)</text>
</g>
<g class="b" transform="translate(2385,537)">
<text y="0" textLength="336" lengthAdjust="spacingAndGlyphs">stars with similar magnitudes yield a median value of</text>
<text y="16.65">Δ<tspan class="u">W1</tspan> = 0.01 and Δ<tspan class="u">W2</tspan> = 0.02.</text>
</g>
<g class="b" transform="translate(2385,581)">
<text x="-13" y="0">•</text>
<text y="0" textLength="336" lengthAdjust="spacingAndGlyphs"><tspan class="i">J1505+0326</tspan> — This target was observed during two</text>
<text y="16.65" textLength="336" lengthAdjust="spacingAndGlyphs">epochs separated by about 180 days. No evident in-</text>
<text y="33.3" textLength="336" lengthAdjust="spacingAndGlyphs">traday variability can be seen in either single epoch</text>
<text y="49.95" textLength="336" lengthAdjust="spacingAndGlyphs">(Δ<tspan class="u">W1,W2,W3</tspan> ≈ 0), but the magnitude jump between the</text>
<text y="66.6" textLength="336" lengthAdjust="spacingAndGlyphs">two epochs is considerable (see the bottom panel of Fig-</text>
<text y="83.25" textLength="336" lengthAdjust="spacingAndGlyphs">ure 2). The flux-weighted mean W1 and W2 magnitudes</text>
<text y="99.9" textLength="336" lengthAdjust="spacingAndGlyphs">varied by 0.16 and 0.25 between the two epochs, while</text>
<text y="116.55" textLength="336" lengthAdjust="spacingAndGlyphs">the observations for both epochs as a whole yield Δ<tspan class="u">W1</tspan> =</text>
<text y="133.2" textLength="336" lengthAdjust="spacingAndGlyphs">0.08, Δ<tspan class="u">W2</tspan> = 0.13, and Δ<tspan class="u">W3</tspan> = 0.12. The W1 and W2</text>
<text y="149.85" textLength="336" lengthAdjust="spacingAndGlyphs">magnitudes are almost equal to those of J0849+5108,</text>
<text y="166.5" textLength="336" lengthAdjust="spacingAndGlyphs">and the Δ of standard stars is also comparable to that</text>
<text y="183.15" textLength="336" lengthAdjust="spacingAndGlyphs">for J0849+5108. Given the redshift of 0.408, the time</text>
<text y="199.8" textLength="336" lengthAdjust="spacingAndGlyphs">scale of variability should be shorter than 128 days in</text>
<text y="216.45">the source rest frame.</text>
</g>
<g class="b" transform="translate(2341,828)">
<text x="16.6" y="0" textLength="363.4" lengthAdjust="spacingAndGlyphs">To verify the accuracy of the variability flag assigned by</text>
<text y="16.65" textLength="380" lengthAdjust="spacingAndGlyphs"><tspan class="i">WISE</tspan>, we recomputed the variability probability following the</text>
<text y="33.3" textLength="380" lengthAdjust="spacingAndGlyphs">formalism devised by Hoffman et al. (2012), but using our</text>
<text y="49.95" textLength="380" lengthAdjust="spacingAndGlyphs">own error estimates. With the exception of J1633+4718, which</text>
<text y="66.6" textLength="380" lengthAdjust="spacingAndGlyphs">shows likely variability according to our test, our results are</text>
<text y="83.25" textLength="380" lengthAdjust="spacingAndGlyphs">consistent with those of Hoffman et al (2012). The PSF profile-</text>
<text y="99.9" textLength="380" lengthAdjust="spacingAndGlyphs">fit magnitudes for J1633+4718, however, are probably unreli-</text>
<text y="116.55" textLength="380" lengthAdjust="spacingAndGlyphs">able because this source is an interacting system of two galax-</text>
<text y="133.2" textLength="380" lengthAdjust="spacingAndGlyphs">ies separated by ∼4″ as denoted above, which still cannot be</text>
<text y="149.85" textLength="380" lengthAdjust="spacingAndGlyphs">resolved by <tspan class="i">WISE</tspan>. By contrast, J1722+5654, which shows a</text>
<text y="166.5" textLength="380" lengthAdjust="spacingAndGlyphs">large magnitude deviation (red plus symbol in Figure 1), has</text>
<text y="183.15">Δ ≈ 0 after correction for systematic measurement errors.</text>
<text x="16.6" y="199.8" textLength="363.4" lengthAdjust="spacingAndGlyphs">Lastly, we performed a cross correlation analysis for the three</text>
<text y="216.45" textLength="380" lengthAdjust="spacingAndGlyphs">variable sources to search for evidence of time lag between the</text>
<text y="233.1">light curves of the three bands. No significant lag was found.</text>
<text x="88" y="273.5" font-size="13" textLength="203" lengthAdjust="spacingAndGlyphs">3. DISCUSSION AND CONCLUSIONS</text>
<text x="16.6" y="298" textLength="363.4" lengthAdjust="spacingAndGlyphs">Using newly released data from <tspan class="i">WISE</tspan>, whose well-designed</text>
<text y="314.65" textLength="380" lengthAdjust="spacingAndGlyphs">observation mode provides a modest number of repeat obser-</text>
</g>

<!-- ================= PAGE 4 ================= -->
<text x="2858" y="78" class="b" text-anchor="middle">4</text>
<text x="3208" y="78" class="b" textLength="93" lengthAdjust="spacingAndGlyphs">JIANG ET AL.</text>
<g fill="none" stroke="#000" stroke-width="1.2">
<rect x="2941" y="122" width="301" height="129"/>
<rect x="2941" y="251" width="301" height="130"/>
<rect x="2941" y="381" width="301" height="130"/>
<rect x="3328" y="122" width="293" height="129"/>
<rect x="3328" y="251" width="293" height="130"/>
<rect x="3328" y="381" width="293" height="130"/>
<rect x="2979" y="585.5" width="619" height="130.1"/>
<rect x="2979" y="715.6" width="619" height="129.7"/>
<rect x="2979" y="845.3" width="619" height="129.7"/>
<line x1="3288" y1="585.5" x2="3288" y2="975"/>
</g>
<g class="s" font-size="16" text-anchor="end">
<text x="2936" y="139">13.8</text><text x="2936" y="174">14.0</text><text x="2936" y="211">14.2</text><text x="2936" y="248">14.4</text>
<text x="2936" y="270">12.8</text><text x="2936" y="296">13.0</text><text x="2936" y="321.5">13.2</text><text x="2936" y="348">13.4</text><text x="2936" y="374">13.6</text>
<text x="2936" y="398">9.6</text><text x="2936" y="419">9.8</text><text x="2936" y="441">10.0</text><text x="2936" y="462">10.2</text><text x="2936" y="484">10.4</text><text x="2936" y="505.6">10.6</text>
<text x="3322" y="149.7">13.0</text><text x="3322" y="180">13.2</text><text x="3322" y="211">13.4</text><text x="3322" y="241.5">13.6</text>
<text x="3322" y="266.4">11.8</text><text x="3322" y="299.7">12.0</text><text x="3322" y="334.5">12.2</text><text x="3322" y="369">12.4</text>
<text x="3322" y="402">8.8</text><text x="3322" y="429.8">9.0</text><text x="3322" y="459">9.2</text><text x="3322" y="487.6">9.4</text><text x="3322" y="512">9.6</text>
<text x="3232" y="145">J0849+5108</text><text x="3611" y="145">J0948+0022</text>
<text x="2974" y="614.6">13.9</text><text x="2974" y="638.7">14.0</text><text x="2974" y="661.3">14.1</text><text x="2974" y="685.4">14.2</text><text x="2974" y="709">14.3</text>
<text x="2974" y="737.8">12.8</text><text x="2974" y="770">13.0</text><text x="2974" y="801.7">13.2</text><text x="2974" y="834.2">13.4</text>
<text x="2974" y="870.6">9.6</text><text x="2974" y="893.9">9.8</text><text x="2974" y="915.7">10.0</text><text x="2974" y="938.3">10.2</text><text x="2974" y="960.9">10.4</text>
<text x="3588" y="612">J1505+0326</text>
</g>
<g class="s" font-size="16" text-anchor="middle">
<text x="2962.5" y="531">0.0</text><text x="3008" y="531">0.2</text><text x="3054" y="531">0.4</text><text x="3099.5" y="531">0.6</text><text x="3145" y="531">0.8</text><text x="3190.5" y="531">1.0</text><text x="3236" y="531">1.2</text>
<text x="3351" y="531">0.0</text><text x="3400.4" y="531">0.2</text><text x="3449.8" y="531">0.4</text><text x="3499.2" y="531">0.6</text><text x="3548.6" y="531">0.8</text><text x="3598" y="531">1.0</text>
<text x="3091" y="547">MJD − 55300</text><text x="3473" y="547">MJD − 55330</text>
<text x="2995.7" y="995">0.6</text><text x="3047" y="995">0.8</text><text x="3100" y="995">1.0</text><text x="3152" y="995">1.2</text><text x="3204" y="995">1.4</text><text x="3256" y="995">1.6</text>
<text x="3295" y="995">180.8</text><text x="3340" y="995">181.0</text><text x="3386" y="995">181.2</text><text x="3432" y="995">181.4</text><text x="3481" y="995">181.6</text><text x="3527" y="995">181.8</text><text x="3573" y="995">182.0</text>
<text x="3134" y="1011">MJD − 55227</text><text x="3443" y="1011">MJD − 55227</text>
<text transform="translate(2890,186.5) rotate(-90)">W1  (mag)</text>
<text transform="translate(2890,316) rotate(-90)">W2  (mag)</text>
<text transform="translate(2890,446) rotate(-90)">W3  (mag)</text>
<text transform="translate(3278,186.5) rotate(-90)">W1  (mag)</text>
<text transform="translate(3278,316) rotate(-90)">W2  (mag)</text>
<text transform="translate(3278,446) rotate(-90)">W3  (mag)</text>
<text transform="translate(2929,650.5) rotate(-90)">W1  (mag)</text>
<text transform="translate(2929,780.5) rotate(-90)">W2  (mag)</text>
<text transform="translate(2929,910) rotate(-90)">W3  (mag)</text>
</g>
<g class="c">
<text x="2858" y="1040" textLength="780" lengthAdjust="spacingAndGlyphs">F<tspan font-size="10">IG</tspan>. 2.— <tspan class="i">WISE</tspan> light curves constructed from profile-fit magnitudes; 1-σ error bar are plotted. The red points in the W1 and W2 bands represent measurements</text>
<text x="2851" y="1053" textLength="439" lengthAdjust="spacingAndGlyphs">from a typical nearby “standard” star, shifted slightly by a constant for ease of comparison.</text>
</g>
<g class="b" transform="translate(2851,1103.6)">
<text y="0" textLength="380" lengthAdjust="spacingAndGlyphs">vations of the sky, we discovered significant IR variability in</text>
<text y="16.65" textLength="380" lengthAdjust="spacingAndGlyphs">three out of 23 radio-loud NLS1s selected from the sample of</text>
<text y="33.3" textLength="380" lengthAdjust="spacingAndGlyphs">Y08. All three are markedly variable in the W1 (3.4 μm) and/or</text>
</g>
<g class="b" transform="translate(3268,1103.6)">
<text y="0" textLength="380" lengthAdjust="spacingAndGlyphs">W2 (4.6 μm) bands, at greater than 6σ confidence. Closer ex-</text>
<text y="16.65" textLength="380" lengthAdjust="spacingAndGlyphs">amination of their light curves reveals that J0849+5108 and</text>
<text y="33.3" textLength="380" lengthAdjust="spacingAndGlyphs">J0948+0022 show clear intraday variability, while J1505+0326</text>
</g>

<!-- ================= PAGE 5 ================= -->
<text x="4570" y="78" class="b" text-anchor="middle">5</text>
<g fill="none" stroke="#000" stroke-width="1.2">
<rect x="3833" y="98.7" width="292" height="188.3"/>
<rect x="3833" y="287" width="292" height="188.7"/>
<rect x="3833" y="475.7" width="292" height="187.3"/>
</g>
<g class="s" font-size="15" text-anchor="end">
<text x="3829" y="136">46</text><text x="3829" y="175">45</text><text x="3829" y="214">44</text><text x="3829" y="254">43</text><text x="3829" y="288">42</text>
<text x="3829" y="324">46</text><text x="3829" y="364">45</text><text x="3829" y="403">44</text><text x="3829" y="442">43</text><text x="3829" y="476.5">42</text>
<text x="3829" y="513">46</text><text x="3829" y="551.5">45</text><text x="3829" y="590.5">44</text><text x="3829" y="630">43</text><text x="3829" y="664">42</text>
<text x="4105" y="277">J0849+5108</text><text x="4105" y="465">J0948+0022</text><text x="4105" y="653">J1505+0326</text>
</g>
<g class="s" font-size="15" text-anchor="middle">
<text x="3866.5" y="682">10</text><text x="3953.4" y="682">15</text><text x="4039" y="682">20</text><text x="4125" y="682">25</text>
<text x="3979" y="698">log (ν/Hz)</text>
<text transform="translate(3803,193) rotate(-90)" font-size="14">log (νL<tspan font-size="9">ν</tspan>/erg s⁻¹)</text>
<text transform="translate(3803,381) rotate(-90)" font-size="14">log (νL<tspan font-size="9">ν</tspan>/erg s⁻¹)</text>
<text transform="translate(3803,569) rotate(-90)" font-size="14">log (νL<tspan font-size="9">ν</tspan>/erg s⁻¹)</text>
</g>
<line x1="3853" y1="117" x2="3877" y2="117" stroke="#22cc22" stroke-width="1.6" stroke-dasharray="1.5,2.5"/>
<text x="3884" y="122" class="s" font-size="14">composite SED</text>
<g class="c" font-size="12">
<text x="3785" y="717.7" textLength="368" lengthAdjust="spacingAndGlyphs">F<tspan font-size="9.5">IG</tspan>. 3.— SEDs of the three variable objects. Data include radio measure-</text>
<text x="3778" y="730.8" textLength="375" lengthAdjust="spacingAndGlyphs">ments (black dots), <tspan class="i">WISE</tspan> photometry (red squares), 2MASS near-IR magni-</text>
<text x="3778" y="744" textLength="375" lengthAdjust="spacingAndGlyphs">tudes (black triangles), SDSS <tspan class="i">ugriz</tspan> PSF magnitudes corrected for Galactic ex-</text>
<text x="3778" y="757" textLength="375" lengthAdjust="spacingAndGlyphs">tinction (black stars), X-ray and γ-ray from Abdo et al. 2009b; D’Ammando et</text>
<text x="3778" y="770.2" textLength="375" lengthAdjust="spacingAndGlyphs">al. 2012 (blue diamonds). The mean SED of the other 20 nonvariable sources</text>
<text x="3778" y="783.3" textLength="375" lengthAdjust="spacingAndGlyphs">is plotted with a green dotted line. The radio, 2MASS, and SDSS data were</text>
<text x="3778" y="796.5" textLength="101" lengthAdjust="spacingAndGlyphs">collected from NED.</text>
</g>
<g class="b" transform="translate(3778,822)">
<text y="0" textLength="380" lengthAdjust="spacingAndGlyphs">varies on a longer time scale of 180 days or less. Quantify-</text>
<text y="16.65" textLength="380" lengthAdjust="spacingAndGlyphs">ing the variability amplitude using the variance of the observed</text>
<text y="33.3" textLength="380" lengthAdjust="spacingAndGlyphs">magnitudes (e.g., Ai et al. 2010), after accounting for mea-</text>
<text y="49.95" textLength="380" lengthAdjust="spacingAndGlyphs">surement errors, we find Δ ≈ 0.1 − 0.2. This represents the</text>
<text y="66.6" textLength="380" lengthAdjust="spacingAndGlyphs">first definitive detection of IR intraday variability for radio-loud</text>
<text y="83.25">NLS1s.</text>
<text x="16.6" y="99.9" textLength="363.4" lengthAdjust="spacingAndGlyphs">The variability time scale allows us to place limits on the size</text>
<text y="116.55" textLength="380" lengthAdjust="spacingAndGlyphs">of the IR-emitting region. In the case of J1505+0326, for which</text>
<text y="133.2" textLength="380" lengthAdjust="spacingAndGlyphs">only relatively long-term variability can be determined, the size</text>
<text y="149.85" textLength="380" lengthAdjust="spacingAndGlyphs">of emission region is confined to be ≲ 0.1 pc. On the other</text>
<text y="166.5" textLength="380" lengthAdjust="spacingAndGlyphs">hand, the detection of intraday variability in J0849+5108 and</text>
<text y="183.15" textLength="380" lengthAdjust="spacingAndGlyphs">J0948+0022 implies that their IR emission region is very com-</text>
<text y="199.8" textLength="380" lengthAdjust="spacingAndGlyphs">pact, confined to scales of ∼ 10⁻³ pc, which corresponds to only</text>
<text y="216.45" textLength="380" lengthAdjust="spacingAndGlyphs">hundreds of Schwarzschild radii assuming <tspan class="i">M</tspan><tspan class="u">BH</tspan> ≈ 3 × 10⁷ <tspan class="i">M</tspan><tspan class="u">⊙</tspan></text>
<text y="233.1" textLength="380" lengthAdjust="spacingAndGlyphs">(Y08). Thermal IR radiation in AGNs is normally believed to</text>
<text y="249.75" textLength="380" lengthAdjust="spacingAndGlyphs">be arise mainly from a dusty torus outside of the dust subli-</text>
<text y="266.4" textLength="380" lengthAdjust="spacingAndGlyphs">mation radius (Laor &amp; Draine 1993), which for graphite grains</text>
<text y="283.05" textLength="380" lengthAdjust="spacingAndGlyphs">is about 0.5 pc for these three sources. If the inferred size of</text>
<text y="299.7" textLength="380" lengthAdjust="spacingAndGlyphs">the emission region for J0849+5108 and J0948+0022 is rep-</text>
<text y="316.35" textLength="380" lengthAdjust="spacingAndGlyphs">resentative, it implies that the IR radiation comes from a spa-</text>
</g>
<g class="b" transform="translate(4195,112.5)">
<text y="0" textLength="380" lengthAdjust="spacingAndGlyphs">tial scale much smaller than that of the torus, perhaps no larger</text>
<text y="16.65" textLength="380" lengthAdjust="spacingAndGlyphs">than that of the accretion disk. This strongly suggests that the</text>
<text y="33.3" textLength="380" lengthAdjust="spacingAndGlyphs">IR emission is dominated by an additional nonthermal com-</text>
<text y="49.95" textLength="380" lengthAdjust="spacingAndGlyphs">ponent, presumably associated with the jet responsible for the</text>
<text y="66.6" textLength="380" lengthAdjust="spacingAndGlyphs">radio emission. Coincidently, but perhaps not surprisingly, in</text>
<text y="83.25" textLength="380" lengthAdjust="spacingAndGlyphs">all three objects variable γ-ray emission has been detected re-</text>
<text y="99.9" textLength="380" lengthAdjust="spacingAndGlyphs">cently with <tspan class="i">Fermi</tspan>/LAT (Abdo et al. 2009a, 2009b; Foschini</text>
<text y="116.55" textLength="380" lengthAdjust="spacingAndGlyphs">2011; D’Ammando et al. 2012). This confirms the blazar-like</text>
<text y="133.2" textLength="380" lengthAdjust="spacingAndGlyphs">nature of these three radio-loud NLS1s and supports the hy-</text>
<text y="149.85" textLength="380" lengthAdjust="spacingAndGlyphs">pothesis that they do indeed have relativistic jets pointing close</text>
<text y="166.5" textLength="380" lengthAdjust="spacingAndGlyphs">to our line of sight. In this scenario, the variable IR emission</text>
<text y="183.15" textLength="356" lengthAdjust="spacingAndGlyphs">derives from synchrotron radiation from the base of the jet.</text>
<text x="16.6" y="199.8" textLength="363.4" lengthAdjust="spacingAndGlyphs">We note, in passing, that intraday variability of J0948+0022</text>
<text y="216.45" textLength="380" lengthAdjust="spacingAndGlyphs">with similar amplitude as seen in <tspan class="i">WISE</tspan> has been reported also</text>
<text y="233.1" textLength="380" lengthAdjust="spacingAndGlyphs">in the optical (Liu et al. 2010). IR observations are, in princi-</text>
<text y="249.75" textLength="380" lengthAdjust="spacingAndGlyphs">ple, superior to optical observations for the purposes of detect-</text>
<text y="266.4" textLength="380" lengthAdjust="spacingAndGlyphs">ing synchrotron radiation from jets. IR radiation is less affected</text>
<text y="283.05" textLength="380" lengthAdjust="spacingAndGlyphs">by dust extinction and is less contaminated by AGN accretion</text>
<text y="299.7" textLength="380" lengthAdjust="spacingAndGlyphs">processes that may cause optical variability due to instabilities</text>
<text y="316.35">in the accretion flow.</text>
<text x="16.6" y="333" textLength="363.4" lengthAdjust="spacingAndGlyphs">The fraction of IR-variable sources in the Y08 sample seems</text>
<text y="349.65" textLength="380" lengthAdjust="spacingAndGlyphs">to be quite low (3/23 or 13%). One immediate, trivial reason</text>
<text y="366.3" textLength="380" lengthAdjust="spacingAndGlyphs">is probably simply sensitivity. About half of the Y08 sample is</text>
<text y="382.95" textLength="380" lengthAdjust="spacingAndGlyphs">fainter than the three variable sources, and their variability, if</text>
<text y="399.6" textLength="380" lengthAdjust="spacingAndGlyphs">present, is likely masked by measurement errors (cf. Figure 1).</text>
<text y="416.25" textLength="380" lengthAdjust="spacingAndGlyphs">The degree of radio-loudness also seems to matter. The major-</text>
<text y="432.9" textLength="380" lengthAdjust="spacingAndGlyphs">ity of the parent sample have radio-loudness parameters much</text>
<text y="449.55" textLength="380" lengthAdjust="spacingAndGlyphs">lower than those of J0849+5108 and J1505+0326. J0948+0022</text>
<text y="466.2" textLength="380" lengthAdjust="spacingAndGlyphs">has a <tspan class="i">R</tspan> parameter 0.6 dex lower than the other two variable</text>
<text y="482.85" textLength="380" lengthAdjust="spacingAndGlyphs">objects, but it is still higher than half of the full sample (see</text>
<text y="499.5" textLength="380" lengthAdjust="spacingAndGlyphs">Table 1 and Figure 3). According to Y08, eight sources dis-</text>
<text y="516.15" textLength="380" lengthAdjust="spacingAndGlyphs">play prominent radio variability between two epochs separated</text>
<text y="532.8" textLength="380" lengthAdjust="spacingAndGlyphs">by several years. The three IR variables discussed here show</text>
<text y="549.45" textLength="380" lengthAdjust="spacingAndGlyphs">the largest amplitude of radio variations (∼ 40% − 75%) and the</text>
<text y="566.1" textLength="380" lengthAdjust="spacingAndGlyphs">highest radio brightness temperatures, all exceeding the thresh-</text>
<text y="582.75" textLength="380" lengthAdjust="spacingAndGlyphs">old value, usually estimated to be <tspan class="i">T</tspan><tspan class="u">B</tspan> ≃ 10¹² K, above which</text>
<text y="599.4" textLength="380" lengthAdjust="spacingAndGlyphs">inverse-Compton catastrophe is predicted to occur (Kellermann</text>
<text y="616.05" textLength="380" lengthAdjust="spacingAndGlyphs">&amp; Pauliny-Toth 1969). Taking the inverse-Compton limit of</text>
<text y="632.7" textLength="380" lengthAdjust="spacingAndGlyphs">10¹² K as a conservative limit, the minimum Doppler factors</text>
<text y="649.35" textLength="380" lengthAdjust="spacingAndGlyphs">are estimated to be 1.5–4.7, which are within the range of val-</text>
<text y="666" textLength="380" lengthAdjust="spacingAndGlyphs">ues for relativistic jets inferred for classical radio-loud AGNs</text>
<text y="682.65" textLength="380" lengthAdjust="spacingAndGlyphs">(Ghisellini et al. 1993). In addition, they show ubiquitously in-</text>
<text y="699.3" textLength="380" lengthAdjust="spacingAndGlyphs">verted radio spectra and happen to be the flatest three of the 11</text>
<text y="715.95" textLength="380" lengthAdjust="spacingAndGlyphs">sources whose radio spectral slope have been estimated in Y08,</text>
<text y="732.6">which is consistent with the blazar nature.</text>
<text x="16.6" y="749.25" textLength="363.4" lengthAdjust="spacingAndGlyphs">Selection by IR variability also must favor objects that are</text>
<text y="765.9" textLength="380" lengthAdjust="spacingAndGlyphs">intrinsically more IR luminous. The overall SED of blazars</text>
<text y="782.55" textLength="380" lengthAdjust="spacingAndGlyphs">is characterized by two broad bumps due to synchrotron emis-</text>
<text y="799.2" textLength="380" lengthAdjust="spacingAndGlyphs">sion and inverse-Compton scattering, respectively. “Blazars”</text>
<text y="815.85" textLength="380" lengthAdjust="spacingAndGlyphs">is a collective term for BL Lac objects and flat-spectrum radio</text>
<text y="832.5" textLength="380" lengthAdjust="spacingAndGlyphs">quasars (FSRQs), which are distinguished from each other ac-</text>
<text y="849.15" textLength="380" lengthAdjust="spacingAndGlyphs">cording to the strength of their emission lines in optical spectra:</text>
<text y="865.8" textLength="380" lengthAdjust="spacingAndGlyphs">BL Lac objects have very weak emission lines while FSRQs</text>
<text y="882.45" textLength="380" lengthAdjust="spacingAndGlyphs">look like normal quasars. Depending on the peak frequency of</text>
<text y="899.1" textLength="380" lengthAdjust="spacingAndGlyphs">the synchrotron bump, BL Lac objects can be divided into low-</text>
<text y="915.75" textLength="380" lengthAdjust="spacingAndGlyphs">energy-peaked sources, whose SEDs reach a local maximum at</text>
<text y="932.4" textLength="380" lengthAdjust="spacingAndGlyphs">IR–optical wavelengths, and high-energy-peaked ones, which</text>
<text y="949.05" textLength="380" lengthAdjust="spacingAndGlyphs">peak near the UV or soft X-ray band (Giommi &amp; Padovani</text>
<text y="965.7" textLength="380" lengthAdjust="spacingAndGlyphs">1994). Similarly, FSRQs can also be divided into their high-</text>
<text y="982.35" textLength="380" lengthAdjust="spacingAndGlyphs">frequency-peaked and low-frequency-peaked varieties, parallel</text>
<text y="999" textLength="380" lengthAdjust="spacingAndGlyphs">to the classification devised for BL Lac objects (Perlman et al.</text>
<text y="1015.65" textLength="380" lengthAdjust="spacingAndGlyphs">1998). Our three IR-variable radio-loud NLS1s have SEDs that,</text>
</g>
<g id="dyn"></g>
</svg>
<script>
(function(){
var NS='http://www.w3.org/2000/svg';
var G=document.getElementById('dyn');
function el(t,a){var e=document.createElementNS(NS,t);for(var k in a)e.setAttribute(k,a[k]);G.appendChild(e);return e;}
var seed=20121010;
function rnd(){seed|=0;seed=seed+0x6D2B79F5|0;var t=Math.imul(seed^seed>>>15,1|seed);t=t+Math.imul(t^t>>>7,61|t)^t;return((t^t>>>14)>>>0)/4294967296;}
function gau(){var u=rnd()||1e-9,v=rnd();return Math.sqrt(-2*Math.log(u))*Math.cos(2*Math.PI*v);}
function interp(a,x){if(x<=a[0][0])return a[0][1];for(var i=1;i<a.length;i++){if(x<=a[i][0]){var t=(x-a[i-1][0])/(a[i][0]-a[i-1][0]);return a[i-1][1]+t*(a[i][1]-a[i-1][1]);}}var n=a.length,t2=(x-a[n-2][0])/(a[n-1][0]-a[n-2][0]);return a[n-2][1]+t2*(a[n-1][1]-a[n-2][1]);}
function mp(b,v,w){return [b.x0+(v-b.vx0)/(b.vx1-b.vx0)*(b.x1-b.x0), b.y0+(w-b.vy0)/(b.vy1-b.vy0)*(b.y1-b.y0)];}
function axes(b,xM,xm,yM,ym,L,l){
  var d='';
  function xs(step,len){var lo=Math.min(b.vx0,b.vx1),hi=Math.max(b.vx0,b.vx1);for(var i=Math.ceil(lo/step-1e-6);i*step<=hi+1e-6;i++){var v=i*step;var x=b.x0+(v-b.vx0)/(b.vx1-b.vx0)*(b.x1-b.x0);d+='M'+x.toFixed(2)+' '+b.y1+'v'+(-len)+'M'+x.toFixed(2)+' '+b.y0+'v'+len;}}
  function ys(step,len){var lo=Math.min(b.vy0,b.vy1),hi=Math.max(b.vy0,b.vy1);for(var i=Math.ceil(lo/step-1e-6);i*step<=hi+1e-6;i++){var v=i*step;var y=b.y0+(v-b.vy0)/(b.vy1-b.vy0)*(b.y1-b.y0);d+='M'+b.x0+' '+y.toFixed(2)+'h'+len+'M'+b.x1+' '+y.toFixed(2)+'h'+(-len);}}
  xs(xM,L);xs(xm,l);ys(yM,L);ys(ym,l);
  el('path',{d:d,stroke:'#000','stroke-width':1,fill:'none'});
}
function Z(zx,zy,x0,yo){return [x0+zx/1.6915, yo+zy/2.6133];}

/* ---------- Figure 1 ---------- */
var F1L={x0:1999,x1:2303,y0:114,y1:403,vx0:11,vx1:16.5,vy0:0.2,vy1:0};
var F1R={x0:2386,x1:2691,y0:114,y1:403,vx0:10.5,vx1:15.5,vy0:0.3,vy1:0};
axes(F1L,1,0.1,0.05,0.01,9,4.5);
axes(F1R,1,0.1,0.05,0.01,9,4.5);
var M1=[[11.0,0.026],[11.75,0.0265],[12.04,0.028],[13.0,0.038],[13.95,0.059],[14.58,0.083],[14.95,0.115],[15.32,0.162],[15.68,0.2],[16.3,0.29]];
var D1=[[11.75,0.034],[12.68,0.046],[13.42,0.062],[14.05,0.083],[14.48,0.109],[14.9,0.147],[15.35,0.2]];
var M2=[[11.35,0.0278],[11.68,0.043],[11.97,0.043],[12.46,0.051],[12.94,0.073],[13.42,0.112],[13.9,0.172],[14.38,0.251],[14.66,0.3]];
var S2=[[10.8,0.024],[11.35,0.03],[12.0,0.04],[12.5,0.052],[12.94,0.073],[13.42,0.112],[13.9,0.172],[14.38,0.251],[14.66,0.3],[15.5,0.45]];
var D2=[[11.35,0.034],[11.78,0.053],[12.26,0.069],[12.74,0.1],[13.22,0.14],[13.7,0.196],[14.28,0.3]];
function scatter(b,N,mlo,mr,pw,curve,sg){
  var d='';
  for(var i=0;i<N;i++){
    var m,s;
    if(rnd()<0.015){m=b.vx0+rnd()*(b.vx1-b.vx0);s=rnd()*b.vy0;}
    else{m=mlo+mr*Math.pow(rnd(),pw);s=interp(curve,m)*Math.exp(sg*gau());}
    if(m<=b.vx0||m>=b.vx1||s<=0||s>=b.vy0)continue;
    var p=mp(b,m,s);
    d+='M'+p[0].toFixed(1)+' '+p[1].toFixed(1)+'h1.3v1.3h-1.3z';
  }
  el('path',{d:d,fill:'#000'});
}
scatter(F1L,4300,11.3,4.9,0.55,M1,0.3);
scatter(F1R,5600,11.0,4.4,0.5,S2,0.26);
function curve(b,a,attrs){var pts=a.map(function(q){var p=mp(b,q[0],q[1]);return p[0].toFixed(1)+','+p[1].toFixed(1);}).join(' ');attrs.points=pts;attrs.fill='none';el('polyline',attrs);}
curve(F1L,M1.slice(1,9),{stroke:'#1fcf1f','stroke-width':1.6});
curve(F1L,D1,{stroke:'#1fcf1f','stroke-width':2.6,'stroke-dasharray':'8,5'});
curve(F1R,M2,{stroke:'#1fcf1f','stroke-width':1.6});
curve(F1R,D2,{stroke:'#1fcf1f','stroke-width':2.6,'stroke-dasharray':'8,5'});
function rsq(x,y,s){el('rect',{x:x-s/2,y:y-s/2,width:s,height:s,fill:'#e00000'});}
function dia(x,y){el('polygon',{points:x+','+(y-6)+' '+(x+4.5)+','+y+' '+x+','+(y+6)+' '+(x-4.5)+','+y,fill:'#0000ff'});}
function plus(x,y){el('path',{d:'M'+(x-6)+' '+y+'h12M'+x+' '+(y-6)+'v12',stroke:'#e00000','stroke-width':1.6});}
var f1r=[[710,392],[608,604],[625,575],[645,592],[600,682],[580,742],[601,752],[528,797],[562,763],[518,862],[533,860],[545,868],[545,848],[457,897],[470,907],[455,917],[347,926],
[1357,343],[1248,655],[1248,670],[1243,715],[1237,777],[1165,790],[1172,800],[1205,818],[1172,870],[1225,860],[1162,895],[1135,885],[1080,880],[1083,938],[1048,934],[955,946]];
f1r.forEach(function(q){var p=Z(q[0],q[1],1854,0);rsq(p[0],p[1],4.5);});
[[450,360],[530,610],[530,685],[1064,585],[1170,567],[1168,697]].forEach(function(q){var p=Z(q[0],q[1],1854,0);dia(p[0],p[1]);});
[[568,585],[1210,597]].forEach(function(q){var p=Z(q[0],q[1],1854,0);plus(p[0],p[1]);});

/* ---------- Figure 2 ---------- */
var Lx={x0:2941,x1:3242,vx0:-0.094,vx1:1.226}, Rx={x0:3328,x1:3621,vx0:-0.093,vx1:1.093};
function bx(h,y0,y1,v0,v1){return {x0:h.x0,x1:h.x1,vx0:h.vx0,vx1:h.vx1,y0:y0,y1:y1,vy0:v0,vy1:v1};}
axes(bx(Lx,122,251,13.734,14.444),0.2,0.05,0.2,0.05,8,4);
axes(bx(Lx,251,381,12.69,13.69),0.2,0.05,0.2,0.05,8,4);
axes(bx(Lx,381,511,9.49,10.70),0.2,0.05,0.2,0.05,8,4);
axes(bx(Rx,122,251,12.852,13.695),0.2,0.05,0.2,0.05,8,4);
axes(bx(Rx,251,381,11.739,12.499),0.2,0.05,0.2,0.05,8,4);
axes(bx(Rx,381,511,8.685,9.623),0.2,0.05,0.2,0.05,8,4);
var BL={x0:2979,x1:3288,vx0:0.536,vx1:1.723}, BR={x0:3288,x1:3598,vx0:180.777,vx1:182.107};
[BL,BR].forEach(function(h){
  axes(bx(h,585.5,715.6,13.798,14.349),0.2,0.05,0.1,0.02,8,4);
  axes(bx(h,715.6,845.3,12.693,13.5),0.2,0.05,0.2,0.05,8,4);
  axes(bx(h,845.3,975,9.42,10.569),0.2,0.05,0.2,0.05,8,4);
});
function pt(x,y,e,red){
  if(e>0)el('path',{d:'M'+x.toFixed(1)+' '+(y-e).toFixed(1)+'V'+(y+e).toFixed(1)+'M'+(x-4).toFixed(1)+' '+(y-e).toFixed(1)+'h8M'+(x-4).toFixed(1)+' '+(y+e).toFixed(1)+'h8',stroke:red?'#ee6060':'#333','stroke-width':1,fill:'none'});
  el('circle',{cx:x.toFixed(1),cy:y.toFixed(1),r:2.3,fill:red?'#e00000':'#000'});
}
function lc(a,red,yo){a.forEach(function(q){var p=Z(q[0],q[1],2781,yo);pt(p[0],p[1],q[2]/2.6133,red);});}
lc([[308,484,18],[359,460,15],[410,480,17],[461,441,15],[487,460,15],[512,460,15],[538,458,15],[564,457,15],[589,451,15],[640,454,15],[691,449,15],[741,472,15]],1,0);
lc([[308,376,27],[359,419,25],[410,417,25],[436,446,22],[461,427,22],[487,451,22],[512,458,25],[538,431,22],[564,489,28],[589,516,28],[640,498,30],[691,545,33],[691,592,30],[741,497,30]],0,0);
lc([[308,780,22],[359,820,25],[410,807,22],[461,834,30],[487,757,22],[487,797,20],[512,817,25],[538,780,22],[564,813,15],[589,773,20],[640,789,25],[691,791,22],[741,807,25]],1,0);
lc([[308,731,22],[359,762,22],[410,769,22],[436,758,15],[461,724,22],[487,781,22],[512,750,20],[538,826,30],[564,816,25],[589,886,28],[640,842,28],[691,865,28],[691,946,30],[741,890,30]],0,0);
lc([[308,1124,42],[359,1046,32],[359,1126,40],[410,1099,35],[436,1155,45],[461,1110,40],[487,1181,50],[512,1207,52],[538,1110,40],[564,1175,48],[589,1203,52],[640,1133,42],[691,1202,50],[691,1266,60],[741,1256,58]],0,0);
lc([[964,451,12],[1020,465,12],[1075,458,12],[1130,447,12],[1158,451,12],[1186,453,12],[1214,449,12],[1242,458,10],[1269,449,12],[1324,438,12],[1380,436,12]],1,0);
lc([[964,378,15],[1020,365,15],[1075,409,15],[1130,408,15],[1158,447,15],[1186,466,15],[1214,481,15],[1269,516,15],[1324,561,15],[1380,591,15]],0,0);
lc([[964,823,15],[1020,817,15],[1075,821,15],[1130,783,15],[1158,810,15],[1186,823,15],[1214,807,15],[1242,830,12],[1269,811,15],[1324,812,15],[1380,803,15]],1,0);
lc([[964,755,18],[1020,719,18],[1075,755,18],[1130,748,15],[1158,812,15],[1186,829,15],[1214,835,15],[1269,922,18],[1324,935,18],[1380,943,18]],0,0);
lc([[964,1153,30],[1020,1110,28],[1075,1049,22],[1130,1127,28],[1158,1196,35],[1186,1136,28],[1214,1197,35],[1269,1193,30],[1324,1250,35],[1380,1267,35]],0,0);
lc([[379,112,15],[437,95,15],[495,115,15],[495,128,18],[553,98,15],[582,102,15],[611,92,12],[640,96,15],[669,127,12],[698,111,15],[756,117,15],[815,141,15],[898,130,15],[950,98,12],[1002,124,12],[1054,118,12],[1080,118,12],[1106,122,12],[1132,106,12],[1160,79,12],[1186,113,12],[1238,108,12],[1290,127,12],[1342,117,15],[1342,146,15]],1,600);
lc([[379,41,35],[437,36,33],[495,13,30],[524,74,35],[553,66,33],[582,70,33],[611,47,33],[640,96,33],[698,84,30],[756,78,33],[815,62,35],[898,107,30],[950,160,35],[1002,210,35],[1002,220,35],[1054,183,35],[1080,187,35],[1106,152,30],[1132,172,30],[1160,141,30],[1186,195,35],[1238,154,30],[1290,189,35],[1342,95,30],[1342,108,30]],0,600);
lc([[379,484,18],[437,435,20],[495,478,20],[553,480,20],[582,443,20],[611,480,18],[640,443,18],[669,433,15],[698,474,18],[756,481,18],[815,463,18],[898,488,18],[950,466,18],[1002,485,15],[1054,459,15],[1080,481,15],[1106,466,15],[1132,480,15],[1160,467,15],[1186,453,15],[1238,481,15],[1290,494,15],[1342,467,15],[1342,470,18]],1,600);
lc([[379,425,28],[495,420,28],[495,452,25],[524,417,25],[582,377,28],[611,426,30],[640,440,25],[698,401,28],[756,375,28],[815,400,28],[898,487,30],[950,569,30],[1002,510,30],[1002,532,30],[1054,522,33],[1080,556,35],[1106,557,35],[1132,484,30],[1160,531,33],[1186,472,33],[1238,548,33],[1290,528,33],[1342,508,33],[1342,541,33]],0,600);
lc([[379,710,35],[437,795,45],[495,707,35],[495,750,40],[524,737,38],[553,724,35],[582,724,35],[611,704,35],[640,728,38],[698,744,42],[756,809,45],[815,737,35],[898,790,40],[950,878,70],[1002,860,60],[1002,868,55],[1054,803,40],[1080,779,38],[1106,832,50],[1132,744,38],[1160,844,55],[1186,741,38],[1238,807,45],[1290,834,50],[1342,811,45],[1342,815,45]],0,600);

/* ---------- Figure 3 ---------- */
var SX={x0:3833,x1:4125,vx0:8.05,vx1:25};
axes(bx(SX,98.7,287,46.8,42.0),5,1,1,0.2,8,4);
axes(bx(SX,287,475.7,46.8,42.0),5,1,1,0.2,8,4);
axes(bx(SX,475.7,663,46.8,42.0),5,1,1,0.2,8,4);
function zl(a,yo){return a.map(function(q){var p=Z(q[0],q[1],3708,yo);return p[0].toFixed(1)+','+p[1].toFixed(1);}).join(' ');}
var gs={fill:'none',stroke:'#22cc22','stroke-width':1.6,'stroke-dasharray':'1.5,2.5'};
function gl(pts){var a={};for(var k in gs)a[k]=gs[k];a.points=pts;el('polyline',a);}
gl(zl([[253,732],[362,437],[375,441],[392,449],[410,437],[500,535]],0));
gl(zl([[253,1165],[360,887],[375,896],[392,905],[410,893],[500,988]],0));
gl('3863,663 3921,555 3928,557.6 3938.6,561.8 3949,555 4000.7,593');
function sed(a,type,yo){a.forEach(function(q){var p=Z(q[0],q[1],3708,yo),x=p[0],y=p[1];
  if(type==='k')el('circle',{cx:x,cy:y,r:1.9,fill:'#000'});
  else if(type==='r')el('rect',{x:x-2.3,y:y-2.3,width:4.6,height:4.6,fill:'#e00000'});
  else if(type==='t'){el('path',{d:'M'+x+' '+(y-5)+'v10M'+(x-2)+' '+(y-5)+'h4M'+(x-2)+' '+(y+5)+'h4',stroke:'#000','stroke-width':1});el('polygon',{points:x+','+(y-2.8)+' '+(x+2.6)+','+(y+2)+' '+(x-2.6)+','+(y+2),fill:'#000'});}
  else if(type==='b')el('polygon',{points:x+','+(y-5.5)+' '+(x+4)+','+y+' '+x+','+(y+5.5)+' '+(x-4)+','+y,fill:'#0000ff'});
});}
sed([[250,677],[256,665],[265,650],[266,635],[272,592],[275,595],[278,587]],'k',0);
sed([[365,425],[374,442],[387,449]],'r',0);
sed([[397,382],[399,378],[402,392],[405,408],[407,420],[410,433],[412,445],[418,474]],'t',0);
sed([[493,511],[667,398]],'b',0);
sed([[250,1185],[252,1178],[256,1150],[265,1107],[273,1075],[279,1052],[281,1038],[286,1025]],'k',0);
sed([[365,887],[374,899],[388,903]],'r',0);
sed([[395,873],[400,898],[403,895],[405,942],[408,935],[411,928],[414,920],[418,914]],'t',0);
sed([[493,910],[652,818]],'b',0);
sed([[285,1530],[290,1524],[280,1560]],'k',0);
sed([[363,1432],[373,1458],[385,1470],[390,1468]],'r',0);
sed([[395,1468],[400,1448],[405,1450],[410,1452],[415,1452],[420,1452]],'t',0);
sed([[665,1388],[491,1552]],'b',0);
sed([[270,18],[263,50],[257,88],[251,97],[248,113]],'k',600);
})();
</script>
</body></html>
